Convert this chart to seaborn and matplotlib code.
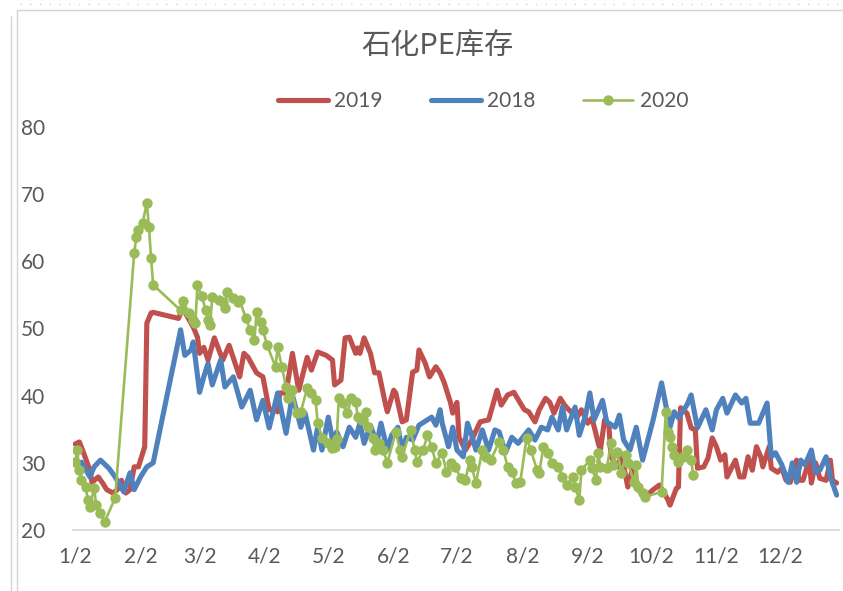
import matplotlib
matplotlib.use("Agg")
import matplotlib.pyplot as plt
import seaborn as sns
import pandas as pd
from matplotlib.lines import Line2D

# days counted from Jan 2
days_2019 = [0, 2, 4, 7, 8, 11, 13, 15, 18, 20,
             22, 24, 26, 28, 30, 33, 34, 36, 37, 49,
             51, 56, 58, 59, 61, 63, 66, 70, 73, 78,
             80, 82, 86, 89, 92, 94, 96, 97, 100, 103,
             106, 110, 112, 115, 119, 122, 123, 126, 128, 130,
             133, 134, 135, 137, 140, 142, 144, 147, 148, 151,
             152, 155, 157, 160, 162, 163, 166, 168, 171, 173,
             175, 178, 179, 181, 182, 185, 188, 192, 196, 200,
             202, 205, 208, 211, 213, 215, 218, 220, 223, 225,
             227, 230, 232, 234, 238, 240, 243, 245, 248, 249,
             251, 253, 254, 257, 259, 262, 264, 266, 270, 274,
             277, 281, 282, 285, 286, 287, 290, 292, 294, 295,
             298, 300, 302, 304, 306, 308, 309, 313, 315, 317,
             319, 321, 323, 325, 326, 329, 330, 333, 335, 337,
             339, 342, 343, 345, 348, 349, 351, 353, 356, 358,
             359, 361]
inv_2019 = [32.8, 33.1, 31.5, 28.9, 27.1, 27.9, 27.0, 26.0, 25.5, 26.0,
            27.4, 25.5, 26.0, 29.4, 29.4, 32.4, 50.8, 52.3, 52.4, 51.5,
            53.0, 50.2, 48.7, 46.3, 47.2, 45.3, 48.6, 45.3, 47.5, 42.8,
            46.3, 45.7, 43.4, 42.8, 37.9, 37.9, 37.6, 40.4, 40.4, 46.3,
            40.8, 45.7, 43.8, 46.5, 46.0, 45.3, 41.6, 42.3, 48.6, 48.7,
            46.3, 47.1, 46.3, 48.6, 46.3, 43.4, 43.4, 38.9, 37.6, 40.8,
            40.4, 36.1, 36.4, 43.5, 43.8, 46.8, 44.8, 42.8, 44.3, 43.4,
            41.9, 38.9, 37.4, 39.0, 33.8, 31.9, 33.4, 36.1, 36.4, 40.8,
            38.6, 40.1, 40.5, 38.9, 37.9, 37.6, 36.1, 37.9, 39.6, 39.0,
            37.4, 39.6, 38.6, 37.9, 36.8, 37.9, 35.9, 36.7, 32.9, 31.9,
            36.4, 35.6, 30.9, 29.4, 31.2, 26.4, 28.9, 26.4, 24.9, 26.0,
            26.7, 24.5, 23.7, 26.2, 26.4, 38.2, 37.4, 35.2, 34.9, 29.2,
            29.4, 30.7, 33.7, 32.4, 30.4, 31.2, 27.9, 30.4, 27.9, 27.9,
            30.9, 28.9, 32.4, 30.9, 29.4, 32.4, 29.2, 28.6, 29.2, 27.4,
            27.1, 30.4, 27.4, 27.4, 30.4, 27.0, 30.0, 27.7, 27.4, 30.4,
            27.4, 27.0]

days_2018 = [3, 7, 9, 12, 16, 19, 23, 26, 28, 31,
             34, 37, 50, 52, 55, 56, 59, 61, 63, 65,
             69, 71, 75, 79, 83, 86, 89, 92, 96, 100,
             103, 107, 109, 113, 115, 117, 120, 122, 124, 127,
             130, 133, 135, 137, 140, 143, 145, 148, 150, 153,
             155, 157, 160, 163, 167, 169, 171, 173, 174, 177,
             179, 181, 184, 186, 188, 190, 193, 196, 199, 201,
             204, 207, 210, 213, 215, 218, 221, 224, 226, 229,
             231, 233, 237, 239, 242, 244, 246, 250, 252, 256,
             258, 260, 263, 266, 269, 274, 278, 282, 284, 286,
             290, 292, 295, 299, 302, 304, 307, 309, 313, 316,
             318, 320, 324, 328, 330, 332, 335, 338, 340, 342,
             344, 346, 349, 351, 353, 356, 358, 361]
inv_2018 = [30.1, 27.9, 29.4, 30.4, 29.2, 27.9, 25.7, 28.5, 26.0, 27.9,
            29.4, 30.0, 49.8, 46.0, 46.8, 48.0, 40.5, 42.8, 44.8, 41.6,
            45.3, 41.3, 42.8, 38.3, 40.8, 36.4, 39.3, 35.2, 40.4, 34.4,
            40.1, 35.3, 37.4, 31.9, 35.3, 31.9, 36.8, 33.4, 34.6, 32.4,
            35.3, 33.8, 35.9, 32.9, 35.6, 32.9, 35.9, 31.9, 34.1, 35.3,
            31.9, 33.8, 33.4, 35.6, 36.4, 36.8, 35.6, 37.9, 35.9, 32.4,
            35.3, 31.9, 30.9, 35.9, 34.1, 31.9, 34.9, 31.9, 34.9, 34.6,
            31.5, 33.8, 32.9, 34.1, 34.9, 33.4, 35.3, 34.9, 36.8, 34.9,
            38.3, 34.9, 38.3, 34.1, 37.1, 40.4, 36.4, 39.3, 36.1, 35.3,
            37.1, 33.4, 31.9, 35.3, 30.4, 36.4, 41.9, 35.3, 37.6, 36.7,
            38.6, 40.1, 35.2, 37.9, 34.9, 37.9, 39.6, 37.4, 40.1, 38.9,
            39.6, 35.9, 35.9, 38.9, 30.9, 31.5, 29.7, 27.1, 30.0, 27.1,
            30.4, 29.7, 31.9, 28.6, 28.9, 30.9, 27.9, 25.2]

days_2020 = [0, 1, 2, 3, 5, 6, 7, 9, 10, 12, 14, 19,
             28, 29, 30, 32, 34, 35, 36, 37,
             50, 51, 54, 56, 57, 58, 60, 62, 63, 64,
             65, 68, 70, 71, 72, 75, 77, 78, 81, 83,
             85, 86, 88, 89, 91, 95, 96, 98, 100, 101,
             103, 105, 107, 110, 112, 114, 115, 117, 120, 122,
             123, 124, 125, 127, 129, 131, 133, 134, 136, 138,
             139, 141, 142, 144, 146, 148, 152, 154, 155, 159,
             161, 162, 165, 167, 169, 171, 174, 176, 178, 180,
             183, 185, 187, 188, 190, 193, 195, 197, 201, 203,
             205, 207, 209, 211, 214, 216, 219, 220, 222, 224,
             226, 229, 231, 233, 236, 237, 239, 240, 244, 245,
             247, 248, 249, 252, 254, 255, 257, 259, 261, 262,
             265, 266, 267, 269, 270, 278, 280, 281, 282, 283,
             284, 286, 288, 290, 292, 293]
inv_2020 = [30.1, 31.9, 28.9, 27.4, 26.4, 24.5, 23.4, 26.3, 23.7, 22.5, 21.2, 24.8,
            61.2, 63.6, 64.6, 65.7, 68.7, 65.1, 60.5, 56.5,
            52.7, 54.1, 52.3, 51.3, 50.8, 56.5, 54.8, 52.7, 51.3, 50.5,
            54.7, 54.2, 53.9, 53.0, 55.4, 54.5, 53.9, 54.2, 51.5, 49.8,
            48.3, 52.4, 50.9, 49.8, 47.5, 44.3, 47.2, 44.3, 41.3, 39.6,
            40.8, 37.4, 37.6, 41.1, 40.4, 39.3, 35.9, 33.7, 32.9, 32.2,
            32.4, 33.5, 39.6, 38.9, 37.4, 39.6, 39.0, 36.8, 36.4, 37.6,
            35.3, 33.7, 31.9, 32.9, 31.9, 30.0, 34.6, 31.9, 30.9, 34.9,
            31.9, 30.1, 31.9, 34.1, 32.4, 30.0, 31.5, 28.6, 30.0, 29.4,
            27.7, 27.4, 30.4, 29.4, 27.0, 31.9, 30.9, 30.4, 33.1, 31.9,
            29.4, 28.6, 27.0, 27.1, 33.7, 31.9, 28.9, 28.5, 32.4, 31.5,
            30.0, 29.4, 27.9, 26.7, 27.9, 26.4, 24.5, 28.9, 30.4, 29.2,
            27.4, 31.5, 29.4, 29.2, 32.9, 29.7, 31.6, 28.5, 31.2, 30.0,
            27.1, 29.7, 26.4, 25.5, 24.9, 25.7, 37.6, 34.6, 33.8, 32.4,
            31.2, 30.1, 30.9, 31.9, 30.4, 28.2]

month_labels = [f"{m}/2" for m in range(1, 13)]
month_days = list((pd.to_datetime([f"2019-{m:02d}-02" for m in range(1, 13)])
                   - pd.Timestamp("2019-01-02")).days)

sns.set_theme(style="white")
plt.rcParams["font.family"] = ["Lato", "Noto Sans CJK SC", "DejaVu Sans"]

fig = plt.figure(figsize=(8.43, 5.91), dpi=100)
ax = fig.add_axes([0.0866, 0.1032, 0.9084, 0.682])

sns.lineplot(x=days_2019, y=inv_2019, color="#C0504D", lw=3.7, label="2019",
             ax=ax, solid_capstyle="round", solid_joinstyle="round")
sns.lineplot(x=days_2018, y=inv_2018, color="#4F81BD", lw=3.7, label="2018",
             ax=ax, solid_capstyle="round", solid_joinstyle="round")
sns.lineplot(x=days_2020, y=inv_2020, color="#9BBB59", lw=1.9, label="2020",
             marker="o", markersize=7.5, markeredgewidth=0, ax=ax)

ax.set_xlim(-1, 362)
ax.set_ylim(20, 80)
ax.set_yticks(range(20, 81, 10))
ax.set_xticks(month_days)
ax.set_xticklabels(month_labels)
ax.set_xlabel("")
ax.set_ylabel("")
for s in ["left", "right", "top"]:
    ax.spines[s].set_visible(False)
ax.spines["bottom"].set_color("#d9d9d9")
ax.spines["bottom"].set_linewidth(1.3)
ax.tick_params(axis="both", length=0, labelsize=15, colors="#595959")
ax.tick_params(axis="x", pad=12)
ax.tick_params(axis="y", pad=20)

fig.text(0.519, 0.92, "石化PE库存", ha="center", va="center", fontsize=21,
         color="#595959", family=["Noto Sans CJK SC", "DejaVu Sans"], fontweight="light")

ax.legend(loc="center", bbox_to_anchor=(0.573, 0.829), bbox_transform=fig.transFigure,
          ncol=3, frameon=False, fontsize=15, handlelength=2.4, columnspacing=2.3,
          handletextpad=0.3, labelcolor="#595959")

# chart frame bits from the spreadsheet
W, H = 843, 591
grey = "#d4d4d4"
fig.add_artist(Line2D([11 / W, 11 / W], [0, 1 - 16 / H], transform=fig.transFigure, color=grey, lw=1))
fig.add_artist(Line2D([17 / W, 17 / W], [0, 1 - 10 / H], transform=fig.transFigure, color=grey, lw=1))
fig.add_artist(Line2D([17 / W, 1], [1 - 10 / H, 1 - 10 / H], transform=fig.transFigure, color=grey, lw=1))
fig.add_artist(Line2D([20 / W, 1], [1 - 4 / H, 1 - 4 / H], transform=fig.transFigure, color=grey,
                      lw=1, ls=(0, (1, 6))))

fig.savefig("out.png", dpi=100)
